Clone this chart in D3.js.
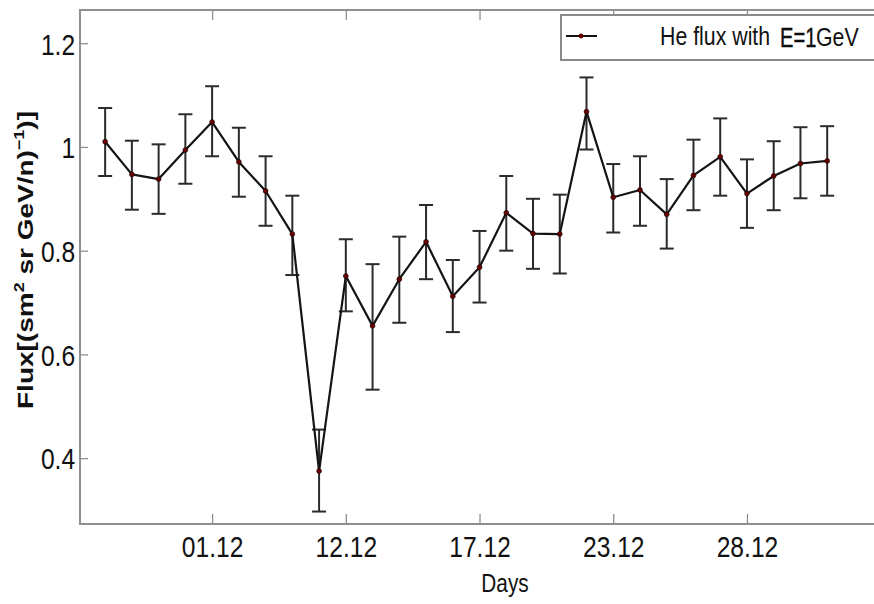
<!DOCTYPE html>
<html>
<head>
<meta charset="utf-8">
<script src="https://cdn.jsdelivr.net/npm/d3@7"></script>
<style>
  html, body { margin: 0; padding: 0; background: #fff; }
  svg { display: block; }
  text { font-family: "Liberation Sans", Arial, sans-serif; fill: #111; }
</style>
</head>
<body>
<svg id="chart" width="874" height="604"></svg>
<script>
// ---- data ----
const dayIndex = d3.range(28);
const flux  = [1.010, 0.947, 0.938, 0.994, 1.048, 0.971, 0.915, 0.832, 0.375, 0.751, 0.655, 0.745, 0.817, 0.712, 0.768, 0.873, 0.833, 0.832, 1.068, 0.903, 0.917, 0.870, 0.945, 0.981, 0.910, 0.944, 0.968, 0.973];
const upper = [1.075, 1.012, 1.005, 1.063, 1.117, 1.037, 0.982, 0.906, 0.455, 0.822, 0.774, 0.827, 0.888, 0.782, 0.838, 0.944, 0.900, 0.908, 1.134, 0.967, 0.982, 0.938, 1.014, 1.055, 0.976, 1.011, 1.038, 1.040];
const lower = [0.944, 0.879, 0.871, 0.929, 0.982, 0.904, 0.848, 0.753, 0.297, 0.683, 0.532, 0.661, 0.745, 0.643, 0.700, 0.800, 0.765, 0.756, 0.995, 0.835, 0.848, 0.804, 0.878, 0.906, 0.844, 0.878, 0.901, 0.906];
const xTickIndex  = [4, 9, 14, 19, 24];
const xTickLabels = ["01.12", "12.12", "17.12", "23.12", "28.12"];
const yTicks      = [0.4, 0.6, 0.8, 1.0, 1.2];
const yTickLabels = ["0.4", "0.6", "0.8", "1", "1.2"];

// ---- layout ----
const L = 80, R = 878, T = 10, B = 524;
const SX = 0.82; // horizontal squeeze of the original picture's text

const svg = d3.select("#chart");
const x = d3.scaleLinear().domain([-0.94, 28.9]).range([L, R]);
const y = d3.scaleLinear().domain([0.273, 1.264]).range([B, T]);

// frame
svg.append("rect").attr("x", L).attr("y", T).attr("width", R - L).attr("height", B - T)
  .attr("fill", "none").attr("stroke", "#8f8f8f").attr("stroke-width", 2);

// bottom axis
const xAxis = d3.axisBottom(x).tickValues(xTickIndex)
  .tickFormat((d, i) => xTickLabels[i]).tickSizeInner(-10).tickSizeOuter(0).tickPadding(0);
const gx = svg.append("g").attr("transform", `translate(0,${B})`).call(xAxis);
gx.select(".domain").remove();
gx.selectAll(".tick line").attr("stroke", "#8f8f8f").attr("stroke-width", 1.3);
gx.selectAll(".tick text").attr("y", 33).attr("dy", 0)
  .attr("font-size", 30).attr("transform", `scale(${SX},1)`).attr("fill", "#111");

// top ticks (mirror)
const gxt = svg.append("g").attr("transform", `translate(0,${T})`)
  .call(d3.axisTop(x).tickValues(xTickIndex).tickFormat("").tickSizeInner(-10).tickSizeOuter(0));
gxt.select(".domain").remove();
gxt.selectAll(".tick line").attr("stroke", "#8f8f8f").attr("stroke-width", 1.3);

// left axis
const yAxis = d3.axisLeft(y).tickValues(yTicks)
  .tickFormat((d, i) => yTickLabels[i]).tickSizeInner(-8).tickSizeOuter(0).tickPadding(6);
const gy = svg.append("g").attr("transform", `translate(${L},0)`).call(yAxis);
gy.select(".domain").remove();
gy.selectAll(".tick line").attr("stroke", "#8f8f8f").attr("stroke-width", 1.3);
gy.selectAll(".tick text").attr("x", -6).attr("dy", "0.36em")
  .attr("font-size", 30).attr("transform", `scale(${SX},1)`).attr("fill", "#111");

// axis labels
svg.append("text").attr("transform", `translate(505,592) scale(0.8,1)`)
  .attr("text-anchor", "middle").attr("font-size", 26).text("Days");

const yl = svg.append("text").attr("transform", `translate(33,260) rotate(-90) scale(1,0.8)`)
  .attr("text-anchor", "middle").attr("font-size", 28).attr("font-weight", "bold");
yl.append("tspan").text("Flux[(sm");
yl.append("tspan").attr("font-size", 18).attr("dy", -11).text("2");
yl.append("tspan").attr("dy", 11).text(" sr GeV/n)");
yl.append("tspan").attr("font-size", 18).attr("dy", -11).text("−1");
yl.append("tspan").attr("dy", 11).text(")]");

// error bars
const eb = svg.append("g").attr("stroke", "#2b2b2b").attr("stroke-width", 2).attr("fill", "none");
const cap = 7;
dayIndex.forEach(i => {
  const cx = x(i);
  eb.append("line").attr("x1", cx).attr("x2", cx).attr("y1", y(upper[i])).attr("y2", y(lower[i]));
  eb.append("line").attr("x1", cx - cap).attr("x2", cx + cap).attr("y1", y(upper[i])).attr("y2", y(upper[i]));
  eb.append("line").attr("x1", cx - cap).attr("x2", cx + cap).attr("y1", y(lower[i])).attr("y2", y(lower[i]));
});

// line
const line = d3.line().x((d, i) => x(dayIndex[i])).y(d => y(d));
svg.append("path").datum(flux).attr("d", line)
  .attr("fill", "none").attr("stroke", "#141414").attr("stroke-width", 2.2).attr("stroke-linejoin", "round");

// markers
svg.append("g").selectAll("circle").data(flux).join("circle")
  .attr("cx", (d, i) => x(dayIndex[i])).attr("cy", d => y(d)).attr("r", 2.4)
  .attr("fill", "#6a0000").attr("stroke", "#1a0000").attr("stroke-width", 0.7);

// legend
const lg = svg.append("g");
lg.append("rect").attr("x", 561).attr("y", 15).attr("width", 330).attr("height", 45)
  .attr("fill", "#fff").attr("stroke", "#8a8a8a").attr("stroke-width", 2);
lg.append("line").attr("x1", 566).attr("x2", 597).attr("y1", 36).attr("y2", 36)
  .attr("stroke", "#141414").attr("stroke-width", 2);
lg.append("circle").attr("cx", 581).attr("cy", 36).attr("r", 2.4).attr("fill", "#6a0000");
lg.append("text").attr("transform", `translate(660,45) scale(${SX},1)`)
  .attr("font-size", 26).attr("fill", "#1a1530").text("He flux with");
lg.append("text").attr("transform", `translate(780,47) scale(0.72,1)`)
  .attr("font-size", 28).attr("fill", "#000").attr("stroke", "#000").attr("stroke-width", 0.4).text("E=1");
lg.append("text").attr("transform", `translate(816,46) scale(${SX},1)`)
  .attr("font-size", 26).attr("fill", "#1a1530").text("GeV");
</script>
</body>
</html>
